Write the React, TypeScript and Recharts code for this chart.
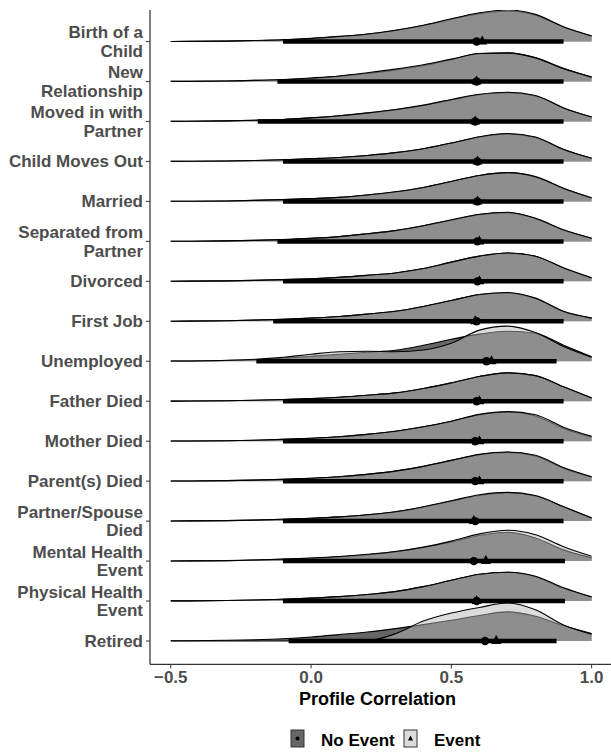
import React from 'react'
import { ComposedChart, Area, XAxis, YAxis, Scatter, ReferenceLine } from 'recharts'

const FONT = '"Liberation Sans", Arial, Helvetica, sans-serif'

// rows, top to bottom
const EVENTS = [
  'Birth of a\nChild',
  'New\nRelationship',
  'Moved in with\nPartner',
  'Child Moves Out',
  'Married',
  'Separated from\nPartner',
  'Divorced',
  'First Job',
  'Unemployed',
  'Father Died',
  'Mother Died',
  'Parent(s) Died',
  'Partner/Spouse\nDied',
  'Mental Health\nEvent',
  'Physical Health\nEvent',
  'Retired',
]

// profile correlation grid the ridges are read at
const GRID = [-0.5, -0.3, -0.2, -0.1, 0, 0.1, 0.2, 0.3, 0.4, 0.5, 0.6, 0.7, 0.8, 0.9, 1.0]

// ridge heights (in row units), No Event / Event
const birthNo = [0.003, 0.012, 0.025, 0.042, 0.075, 0.125, 0.18, 0.275, 0.4, 0.56, 0.7, 0.76, 0.66, 0.36, 0.14]
const birthEv = [0.003, 0.012, 0.025, 0.045, 0.08, 0.13, 0.19, 0.285, 0.41, 0.57, 0.72, 0.79, 0.68, 0.37, 0.14]
const newRelNo = [0.003, 0.012, 0.028, 0.045, 0.08, 0.13, 0.2, 0.29, 0.4, 0.55, 0.7, 0.72, 0.6, 0.33, 0.11]
const newRelEv = [0.003, 0.015, 0.03, 0.05, 0.09, 0.14, 0.22, 0.31, 0.42, 0.56, 0.7, 0.71, 0.59, 0.32, 0.11]
const movedNo = [0.003, 0.015, 0.03, 0.05, 0.09, 0.14, 0.21, 0.29, 0.4, 0.54, 0.67, 0.72, 0.64, 0.34, 0.11]
const movedEv = [0.003, 0.015, 0.03, 0.05, 0.09, 0.145, 0.215, 0.3, 0.41, 0.55, 0.68, 0.73, 0.65, 0.34, 0.11]
const childOutNo = [0.003, 0.012, 0.025, 0.042, 0.068, 0.1, 0.15, 0.22, 0.32, 0.46, 0.61, 0.69, 0.6, 0.3, 0.08]
const childOutEv = [0.003, 0.012, 0.025, 0.042, 0.07, 0.1, 0.15, 0.22, 0.32, 0.46, 0.62, 0.7, 0.61, 0.3, 0.08]
const marriedNo = [0.003, 0.012, 0.025, 0.045, 0.07, 0.1, 0.16, 0.235, 0.35, 0.5, 0.65, 0.72, 0.61, 0.32, 0.08]
const marriedEv = [0.003, 0.012, 0.025, 0.045, 0.07, 0.1, 0.16, 0.24, 0.35, 0.5, 0.65, 0.72, 0.62, 0.33, 0.09]
const separatedNo = [0.003, 0.012, 0.025, 0.045, 0.075, 0.12, 0.19, 0.27, 0.39, 0.53, 0.67, 0.72, 0.57, 0.28, 0.08]
const separatedEv = [0.003, 0.012, 0.025, 0.045, 0.075, 0.12, 0.19, 0.27, 0.39, 0.54, 0.68, 0.73, 0.58, 0.29, 0.08]
const divorcedNo = [0.003, 0.012, 0.025, 0.042, 0.065, 0.1, 0.15, 0.21, 0.32, 0.48, 0.63, 0.71, 0.63, 0.33, 0.08]
const divorcedEv = [0.003, 0.012, 0.025, 0.042, 0.065, 0.1, 0.15, 0.21, 0.32, 0.48, 0.63, 0.71, 0.63, 0.34, 0.09]
const firstJobNo = [0.003, 0.015, 0.03, 0.05, 0.08, 0.12, 0.18, 0.25, 0.37, 0.52, 0.67, 0.71, 0.57, 0.24, 0.08]
const firstJobEv = [0.003, 0.015, 0.03, 0.05, 0.08, 0.12, 0.18, 0.25, 0.37, 0.52, 0.67, 0.72, 0.58, 0.25, 0.08]
const unemployedNo = [0.005, 0.02, 0.038, 0.075, 0.125, 0.175, 0.225, 0.275, 0.4, 0.55, 0.68, 0.75, 0.7, 0.4, 0.11]
const unemployedEv = [0.005, 0.025, 0.05, 0.1, 0.175, 0.24, 0.25, 0.24, 0.28, 0.45, 0.78, 0.88, 0.72, 0.37, 0.1]
const fatherNo = [0.003, 0.012, 0.025, 0.042, 0.065, 0.1, 0.15, 0.21, 0.32, 0.46, 0.62, 0.71, 0.64, 0.36, 0.08]
const fatherEv = [0.003, 0.012, 0.025, 0.042, 0.065, 0.1, 0.15, 0.21, 0.32, 0.46, 0.62, 0.71, 0.64, 0.36, 0.08]
const motherNo = [0.003, 0.012, 0.025, 0.045, 0.072, 0.11, 0.17, 0.25, 0.36, 0.5, 0.66, 0.73, 0.63, 0.32, 0.1]
const motherEv = [0.003, 0.012, 0.025, 0.045, 0.072, 0.11, 0.17, 0.25, 0.36, 0.5, 0.67, 0.74, 0.66, 0.35, 0.12]
const parentsNo = [0.003, 0.012, 0.025, 0.045, 0.072, 0.11, 0.17, 0.25, 0.37, 0.52, 0.66, 0.72, 0.63, 0.32, 0.1]
const parentsEv = [0.003, 0.012, 0.025, 0.045, 0.072, 0.11, 0.17, 0.25, 0.37, 0.52, 0.67, 0.73, 0.65, 0.34, 0.11]
const spouseNo = [0.003, 0.012, 0.025, 0.045, 0.07, 0.105, 0.16, 0.23, 0.35, 0.5, 0.64, 0.71, 0.63, 0.36, 0.08]
const spouseEv = [0.003, 0.012, 0.025, 0.045, 0.07, 0.105, 0.16, 0.235, 0.36, 0.51, 0.66, 0.72, 0.64, 0.36, 0.08]
const mentalNo = [0.003, 0.012, 0.025, 0.045, 0.07, 0.105, 0.16, 0.23, 0.34, 0.48, 0.64, 0.72, 0.58, 0.28, 0.08]
const mentalEv = [0.003, 0.012, 0.028, 0.05, 0.078, 0.115, 0.17, 0.24, 0.35, 0.5, 0.68, 0.77, 0.66, 0.36, 0.12]
const physicalNo = [0.003, 0.012, 0.025, 0.045, 0.072, 0.11, 0.165, 0.235, 0.36, 0.52, 0.67, 0.72, 0.61, 0.32, 0.1]
const physicalEv = [0.003, 0.012, 0.025, 0.045, 0.072, 0.11, 0.165, 0.235, 0.36, 0.52, 0.67, 0.72, 0.62, 0.33, 0.1]
const retiredNo = [0.005, 0.018, 0.033, 0.058, 0.1, 0.16, 0.225, 0.31, 0.41, 0.52, 0.64, 0.73, 0.62, 0.38, 0.19]
const retiredEv = [0, 0, 0, 0, 0.002, 0.004, 0.01, 0.18, 0.5, 0.7, 0.84, 0.95, 0.78, 0.4, 0.17]

const NO_EVENT = [birthNo, newRelNo, movedNo, childOutNo, marriedNo, separatedNo, divorcedNo, firstJobNo,
  unemployedNo, fatherNo, motherNo, parentsNo, spouseNo, mentalNo, physicalNo, retiredNo]
const EVENT = [birthEv, newRelEv, movedEv, childOutEv, marriedEv, separatedEv, divorcedEv, firstJobEv,
  unemployedEv, fatherEv, motherEv, parentsEv, spouseEv, mentalEv, physicalEv, retiredEv]

// point estimates and interval ends
const NO_EVENT_POINT = [0.59, 0.59, 0.585, 0.593, 0.593, 0.593, 0.593, 0.59, 0.625, 0.59, 0.585, 0.585, 0.585, 0.58, 0.59, 0.62]
const EVENT_POINT = [0.61, 0.59, 0.585, 0.593, 0.593, 0.6, 0.6, 0.585, 0.643, 0.6, 0.6, 0.6, 0.58, 0.623, 0.59, 0.66]
const INTERVAL_LO = [-0.1, -0.12, -0.19, -0.1, -0.1, -0.12, -0.1, -0.135, -0.195, -0.1, -0.1, -0.1, -0.1, -0.1, -0.1, -0.08]
const INTERVAL_HI = [0.9, 0.9, 0.9, 0.9, 0.9, 0.9, 0.9, 0.9, 0.875, 0.9, 0.9, 0.9, 0.9, 0.905, 0.905, 0.875]

const X_TICKS = [-0.5, 0, 0.5, 1]

const N = EVENTS.length
const base = (i: number) => N - i

const table = GRID.map((x, j) => {
  const row: Record<string, number> = { x }
  EVENTS.forEach((_, i) => {
    row[`n${i}`] = base(i) + NO_EVENT[i][j]
    row[`e${i}`] = base(i) + EVENT[i][j]
  })
  return row
})

const noEventPts = NO_EVENT_POINT.map((x, i) => ({ x, y: base(i) }))
const eventPts = EVENT_POINT.map((x, i) => ({ x, y: base(i) }))

function RowTick({ x, y, payload }: any) {
  const label = EVENTS[N - payload.value]
  if (!label) return null
  const lines = label.split('\n')
  return (
    <text x={x} y={y} textAnchor="end" fill="#4d4d4d" fontSize={17} fontWeight="bold" fontFamily={FONT}>
      {lines.map((l, k) => (
        <tspan key={k} x={x} y={y + 6 + (k - (lines.length - 1) / 2) * 18.4}>{l}</tspan>
      ))}
    </text>
  )
}

const fmtX = (v: number) => (v < 0 ? '\u2212' : '') + Math.abs(v).toFixed(1)

const Dot = ({ cx, cy }: any) => <circle cx={cx} cy={cy} r={4.2} fill="#000" />
const Tri = ({ cx, cy }: any) => (
  <path d={`M${cx},${cy - 6} L${cx + 5},${cy + 3} L${cx - 5},${cy + 3} Z`} fill="#000" />
)

function LegendKeys() {
  return (
    <svg width={611} height={30} style={{ position: 'absolute', left: 0, top: 723 }}>
      <rect x={291} y={7} width={13} height={17} fill="#666666" stroke="#333" strokeWidth={1} />
      <circle cx={297.5} cy={15.5} r={2} fill="#000" />
      <text x={321} y={23} fontSize={17} fontWeight="bold" fontFamily={FONT} fill="#000">No Event</text>
      <rect x={404} y={7} width={13} height={17} fill="#dcdcdc" stroke="#333" strokeWidth={1} />
      <path d="M410.5,12.5 L413,17.5 L408,17.5 Z" fill="#000" />
      <text x={434} y={23} fontSize={17} fontWeight="bold" fontFamily={FONT} fill="#000">Event</text>
    </svg>
  )
}

export default function App() {
  return (
    <div style={{ position: 'absolute', left: 0, top: 0, width: 611, height: 753, background: '#fff' }}>
      <ComposedChart
        width={611}
        height={753}
        data={table}
        margin={{ top: 10, right: 0, bottom: 28.7, left: 0 }}
      >
        <XAxis
          type="number"
          dataKey="x"
          domain={[-0.574, 1.069]}
          allowDataOverflow
          ticks={X_TICKS}
          tickFormatter={fmtX}
          tick={{ fill: '#4d4d4d', fontSize: 17, fontWeight: 'bold', fontFamily: FONT }}
          tickSize={4}
          tickMargin={3}
          tickLine={{ stroke: '#333' }}
          axisLine={{ stroke: '#000' }}
          height={60}
          label={{
            content: (p: any) => {
              const vb = p.viewBox
              return (
                <text x={vb.x + vb.width / 2 - 3} y={vb.y + 40.7} textAnchor="middle"
                  fontSize={18} fontWeight="bold" fontFamily={FONT} fill="#000">
                  Profile Correlation
                </text>
              )
            },
          }}
        />
        <YAxis
          type="number"
          dataKey="y"
          domain={[0.417, 16.79]}
          allowDataOverflow
          ticks={EVENTS.map((_, i) => base(i))}
          tick={<RowTick />}
          tickSize={4}
          tickMargin={3}
          tickLine={{ stroke: '#333' }}
          axisLine={{ stroke: '#000' }}
          width={150}
          interval={0}
        />

        {EVENTS.flatMap((_, i) => [
          <Area
            key={`n${i}`}
            type="monotone"
            dataKey={`n${i}`}
            baseValue={base(i)}
            stroke="#000"
            strokeWidth={1.1}
            fill="#000"
            fillOpacity={0.6}
            dot={false}
            activeDot={false}
            isAnimationActive={false}
          />,
          <Area
            key={`e${i}`}
            type="monotone"
            dataKey={`e${i}`}
            baseValue={base(i)}
            stroke="#000"
            strokeWidth={1.1}
            fill="#b8b8b8"
            fillOpacity={0.49}
            dot={false}
            activeDot={false}
            isAnimationActive={false}
          />,
        ])}

        {EVENTS.map((_, i) => (
          <ReferenceLine
            key={`iv${i}`}
            segment={[{ x: INTERVAL_LO[i], y: base(i) }, { x: INTERVAL_HI[i], y: base(i) }]}
            stroke="#000"
            strokeWidth={4.5}
          />
        ))}

        <Scatter data={noEventPts} shape={<Dot />} isAnimationActive={false} />
        <Scatter data={eventPts} shape={<Tri />} isAnimationActive={false} />
      </ComposedChart>
      <LegendKeys />
    </div>
  )
}
